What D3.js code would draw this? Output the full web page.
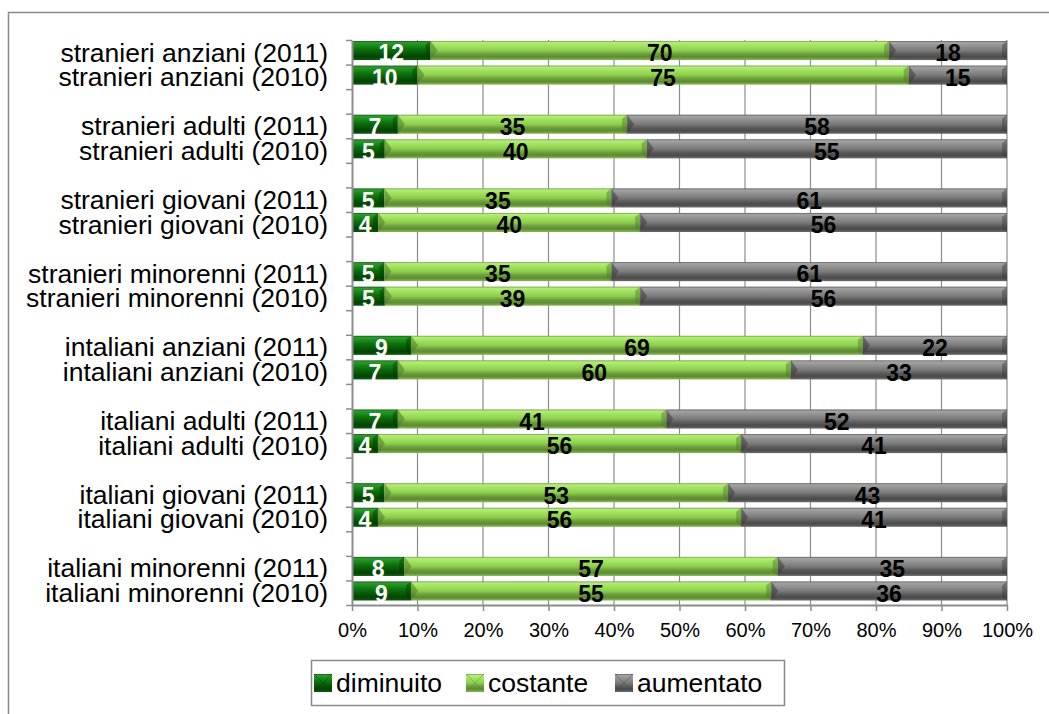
<!DOCTYPE html>
<html>
<head>
<meta charset="utf-8">
<script src="https://cdn.jsdelivr.net/npm/d3@7/dist/d3.min.js"></script>
<style>
  html, body { margin: 0; padding: 0; background: #ffffff; }
  svg { display: block; font-family: "Liberation Sans", Arial, sans-serif; }
</style>
</head>
<body>
<svg id="chart" width="1049" height="714"></svg>
<script>
// ---- data (top to bottom as displayed) ----
const categories = [
  "stranieri anziani (2011)", "stranieri anziani (2010)",
  "stranieri adulti (2011)", "stranieri adulti (2010)",
  "stranieri giovani (2011)", "stranieri giovani (2010)",
  "stranieri minorenni (2011)", "stranieri minorenni (2010)",
  "intaliani anziani (2011)", "intaliani anziani (2010)",
  "italiani adulti (2011)", "italiani adulti (2010)",
  "italiani giovani (2011)", "italiani giovani (2010)",
  "italiani minorenni (2011)", "italiani minorenni (2010)"
];
const diminuito = [12, 10, 7, 5, 5, 4, 5, 5, 9, 7, 7, 4, 5, 4, 8, 9];
const costante  = [70, 75, 35, 40, 35, 40, 35, 39, 69, 60, 41, 56, 53, 56, 57, 55];
const aumentato = [18, 15, 58, 55, 61, 56, 61, 56, 22, 33, 52, 41, 43, 41, 35, 36];
const seriesNames = ["diminuito", "costante", "aumentato"];
const xTickValues = [0, 10, 20, 30, 40, 50, 60, 70, 80, 90, 100];

// ---- build table ----
const rows = categories.map((c, i) => ({
  cat: c, idx: i,
  diminuito: diminuito[i], costante: costante[i], aumentato: aumentato[i]
}));
const stack = d3.stack().keys(seriesNames).offset(d3.stackOffsetExpand);
const stacked = stack(rows);

const svg = d3.select("#chart");
const defs = svg.append("defs");

// gradients emulating bevel
const palettes = {
  diminuito: [["0%", "#0e5a0e"], ["8%", "#2f9a2f"], ["25%", "#1a8a1a"], ["45%", "#0b6f0b"], ["65%", "#075807"], ["82%", "#044204"], ["100%", "#0a5a0a"]],
  costante:  [["0%", "#6f9f3f"], ["8%", "#b4ec78"], ["28%", "#9fe05e"], ["50%", "#8ccf4b"], ["68%", "#6e9e3e"], ["84%", "#5d8a34"], ["100%", "#84bc4c"]],
  aumentato: [["0%", "#5a5a5a"], ["8%", "#a3a3a3"], ["28%", "#8f8f8f"], ["50%", "#7a7a7a"], ["68%", "#5c5c5c"], ["84%", "#4a4a4a"], ["100%", "#6a6a6a"]]
};
const bevelDark = { diminuito: "#033a03", costante: "#4f7a2a", aumentato: "#3c3c3c" };
seriesNames.forEach(k => {
  const g = defs.append("linearGradient").attr("id", "g-" + k)
    .attr("x1", 0).attr("y1", 0).attr("x2", 0).attr("y2", 1);
  palettes[k].forEach(([o, c]) => g.append("stop").attr("offset", o).attr("stop-color", c));
});

// ---- scales ----
const nSlots = categories.length + categories.length / 2 - 1; // 23 with gaps
const slotOf = i => i + Math.floor(i / 2);
const x = d3.scaleLinear().domain([0, 100]).range([352, 1007]);
const yB = d3.scaleLinear().domain([0, nSlots]).range([40, 605]);
const step = yB(1) - yB(0);
const barH = step - 5.5;

// outer border
svg.append("rect").attr("x", 8.5).attr("y", 12.5).attr("width", 1100).attr("height", 800)
  .attr("fill", "none").attr("stroke", "#8a8a8a").attr("stroke-width", 1.5);

// gridlines
svg.append("g").selectAll("line").data(xTickValues.slice(1)).join("line")
  .attr("x1", d => x(d)).attr("x2", d => x(d))
  .attr("y1", yB(0)).attr("y2", yB(nSlots))
  .attr("stroke", "#8c8c8c").attr("stroke-width", 1.2);

// bars
const barsG = svg.append("g");
stacked.forEach(layer => {
  const k = layer.key;
  const g = barsG.append("g");
  layer.forEach((d, i) => {
    const x0 = x(d[0] * 100), x1 = x(d[1] * 100);
    const y0 = yB(slotOf(i)) + 1;
    g.append("rect").attr("x", x0).attr("y", y0).attr("width", Math.max(0, x1 - x0)).attr("height", barH)
      .attr("fill", "url(#g-" + k + ")");
    // left bevel (arrow-like notch)
    if (k !== "diminuito") {
      g.append("path")
        .attr("d", `M${x0},${y0} L${x0 + 7},${y0 + barH / 2} L${x0},${y0 + barH} Z`)
        .attr("fill", bevelDark[k]).attr("opacity", 0.55);
    }
    // right bevel
    g.append("path")
      .attr("d", `M${x1},${y0} L${x1 - 5},${y0 + 4} L${x1 - 5},${y0 + barH - 4} L${x1},${y0 + barH} Z`)
      .attr("fill", bevelDark[k]).attr("opacity", 0.45);
  });
});

// data labels
stacked.forEach(layer => {
  const k = layer.key;
  svg.append("g").selectAll("text").data(layer).join("text")
    .attr("x", d => x((d[0] + d[1]) / 2 * 100))
    .attr("y", (d, i) => yB(slotOf(i)) + step / 2 + 1)
    .attr("dy", "0.35em")
    .attr("text-anchor", "middle")
    .attr("font-size", 23).attr("font-weight", "bold")
    .attr("fill", k === "diminuito" ? "#ffffff" : "#000000")
    .text(d => d.data[k]);
});

// y axis (ticks at slot boundaries)
const yAxis = d3.axisLeft(yB).tickValues(d3.range(0, nSlots + 1)).tickFormat("").tickSize(6).tickSizeOuter(0);
const yg = svg.append("g").attr("transform", "translate(352,0)").call(yAxis);
yg.select(".domain").attr("stroke", "#8c8c8c").attr("stroke-width", 2);
yg.selectAll(".tick line").attr("stroke", "#8c8c8c").attr("stroke-width", 1.5);

// category labels
svg.append("g").selectAll("text").data(categories).join("text")
  .attr("x", 328)
  .attr("y", (d, i) => yB(slotOf(i)) + step / 2)
  .attr("dy", "0.35em")
  .attr("text-anchor", "end")
  .attr("font-size", 26.5)
  .attr("fill", "#000")
  .text(d => d);

// x axis
const xAxis = d3.axisBottom(x).tickValues(xTickValues).tickFormat(d => d + "%")
  .tickSize(6).tickSizeOuter(0).tickPadding(12);
const xg = svg.append("g").attr("transform", `translate(0,${yB(nSlots)})`).call(xAxis);
xg.select(".domain").attr("stroke", "#8c8c8c").attr("stroke-width", 2);
xg.selectAll(".tick line").attr("stroke", "#8c8c8c").attr("stroke-width", 1.5);
xg.selectAll(".tick text").attr("font-size", 20).attr("fill", "#000")
  .attr("font-family", "'Liberation Sans', Arial, sans-serif");

// legend
const leg = svg.append("g");
leg.append("rect").attr("x", 311.5).attr("y", 660.5).attr("width", 473).attr("height", 45)
  .attr("fill", "#fff").attr("stroke", "#8a8a8a").attr("stroke-width", 1.5);
const legX = { diminuito: 314, costante: 466, aumentato: 615 };
seriesNames.forEach(k => {
  const lx = legX[k];
  leg.append("rect").attr("x", lx).attr("y", 674).attr("width", 18).attr("height", 18)
    .attr("fill", "url(#g-" + k + ")");
  leg.append("path")
    .attr("d", `M${lx},${674} L${lx + 18},${692} M${lx + 18},${674} L${lx},${692}`)
    .attr("stroke", bevelDark[k]).attr("stroke-width", 1).attr("opacity", 0.4);
  leg.append("text").attr("x", lx + 22).attr("y", 692)
    .attr("font-size", 26.5).attr("fill", "#000").text(k);
});
</script>
</body>
</html>
